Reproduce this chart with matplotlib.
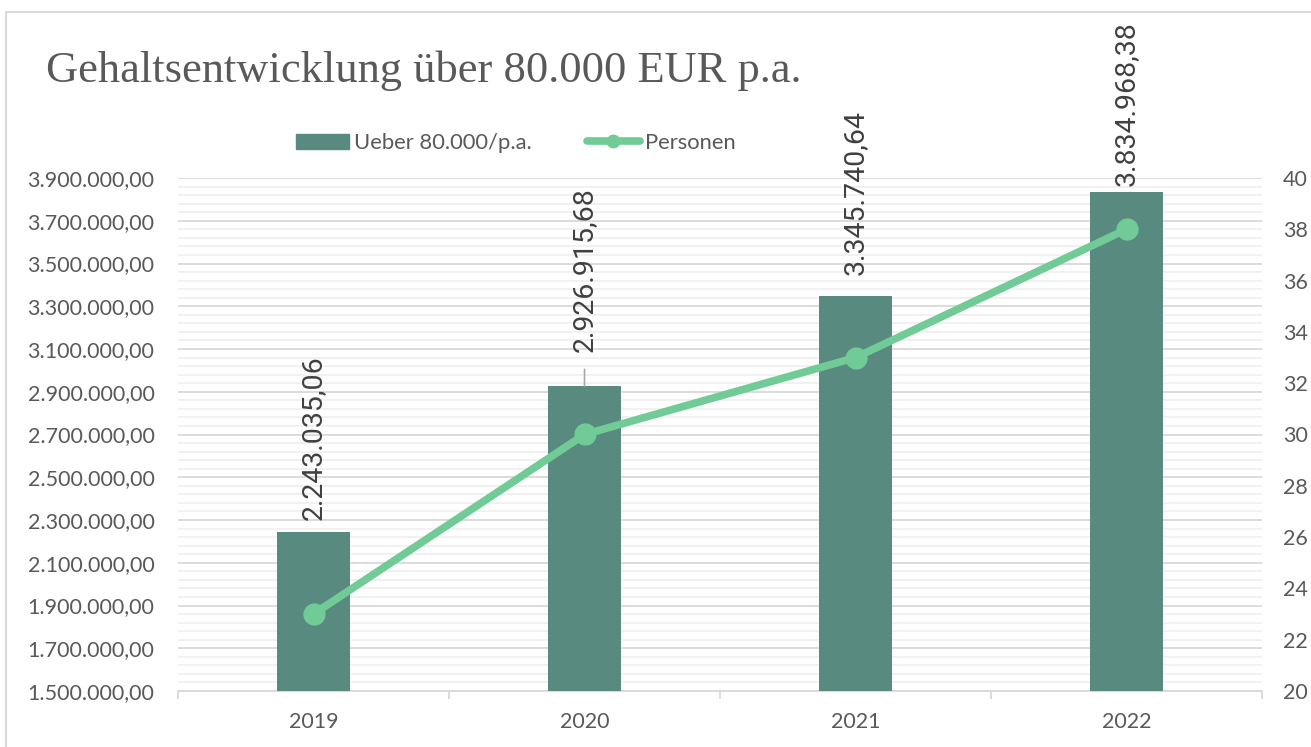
import matplotlib.pyplot as plt
import numpy as np
from matplotlib.patches import Rectangle
from matplotlib.lines import Line2D
from matplotlib.ticker import FixedLocator, MultipleLocator, FuncFormatter

years = ["2019", "2020", "2021", "2022"]
salary_sum = [2243035.06, 2926915.68, 3345740.64, 3834968.38]
persons = [23, 30, 33, 38]
label_gap_px = [12, 34, 21, 6]

BAR_COLOR = "#588a80"
LINE_COLOR = "#70cb96"
TEXT_GRAY = "#595959"
LABEL_GRAY = "#404040"
GRID_MAJOR = "#d9d9d9"
GRID_MINOR = "#f0f0f0"
FS = 15.5


def fmt_de(v, decimals=2):
    s = f"{v:,.{decimals}f}"
    return s.replace(",", "X").replace(".", ",").replace("X", ".")


W, H = 1311, 747
fig = plt.figure(figsize=(W / 100, H / 100), dpi=100)

# chart frame
fig.patches.append(Rectangle((6 / W, -0.1), 1.2, 1 - 12 / H + 0.1, transform=fig.transFigure,
                             fill=False, edgecolor="#d9d9d9", linewidth=1.5, zorder=0))

ax = fig.add_axes([178 / W, 1 - 691 / H, (1262 - 178) / W, (691 - 178) / H])
ax2 = ax.twinx()

x = np.arange(len(years))
ax.bar(x, salary_sum, width=0.27, color=BAR_COLOR, zorder=3)

ax.set_ylim(1500000, 3900000)
ax.set_xlim(-0.5, len(years) - 0.5)
ax.yaxis.set_major_locator(FixedLocator(np.arange(1500000, 3900001, 200000)))
ax.yaxis.set_minor_locator(FixedLocator(np.arange(1500000, 3900001, 40000)))
ax.yaxis.set_major_formatter(FuncFormatter(lambda v, p: fmt_de(v)))
ax.grid(axis="y", which="major", color=GRID_MAJOR, linewidth=1.3, zorder=0)
ax.grid(axis="y", which="minor", color=GRID_MINOR, linewidth=1.3, zorder=0)
ax.set_axisbelow(True)

ax.set_xticks(x)
ax.set_xticklabels(years)
ax.xaxis.set_minor_locator(FixedLocator(np.arange(-0.5, len(years), 1.0)))
ax.tick_params(axis="x", which="major", length=0, pad=15, labelsize=FS, labelcolor=TEXT_GRAY)
ax.tick_params(axis="x", which="minor", length=6, color=GRID_MAJOR, width=1.3)
ax.tick_params(axis="y", which="both", length=0, pad=17, labelsize=FS, labelcolor=TEXT_GRAY)
for t in ax.get_xticklabels() + ax.get_yticklabels():
    t.set_family("Lato")

for s in ["top", "left", "right"]:
    ax.spines[s].set_visible(False)
    ax2.spines[s].set_visible(False)
ax.spines["bottom"].set_color(GRID_MAJOR)
ax.spines["bottom"].set_linewidth(1.3)
ax2.spines["bottom"].set_visible(False)

# bar value labels
for i, v in enumerate(salary_sum):
    gap = label_gap_px[i] * 0.72
    ax.annotate(fmt_de(v), (x[i], v), xytext=(0, gap), textcoords="offset points",
                rotation=90, ha="center", va="bottom", fontsize=20.5, color=LABEL_GRAY,
                family="Roboto", annotation_clip=False, zorder=5)
    if gap > 20:
        ax.annotate("", (x[i], v), xytext=(0, 12), textcoords="offset points",
                    arrowprops=dict(arrowstyle="-", color="#a6a6a6", lw=1.2,
                                    shrinkA=0, shrinkB=0))

ax2.plot(x, persons, color=LINE_COLOR, linewidth=5.5, marker="o", markersize=15,
         solid_capstyle="round", zorder=4)
ax2.set_ylim(20, 40)
ax2.yaxis.set_major_locator(MultipleLocator(2))
ax2.tick_params(axis="y", length=0, pad=15, labelsize=FS, labelcolor=TEXT_GRAY)
for t in ax2.get_yticklabels():
    t.set_family("Lato")

fig.text(46 / W, 1 - 71 / H, "Gehaltsentwicklung über 80.000 EUR p.a.", family="Liberation Serif",
         fontsize=32, color=TEXT_GRAY, va="center", ha="left")

handles = [Rectangle((0, 0), 1, 1, color=BAR_COLOR),
           Line2D([0], [0], color=LINE_COLOR, linewidth=5.5, marker="o", markersize=9,
                  solid_capstyle="round")]
fig.legend(handles, ["Ueber 80.000/p.a.", "Personen"], loc="center",
           bbox_to_anchor=(516 / W, 1 - 143 / H), ncol=2, frameon=False,
           prop={"family": "Lato", "size": 15.8}, labelcolor=TEXT_GRAY,
           handlelength=2.4, handletextpad=0.25, columnspacing=2.5, handleheight=0.7)

fig.savefig("out.png", dpi=100)
